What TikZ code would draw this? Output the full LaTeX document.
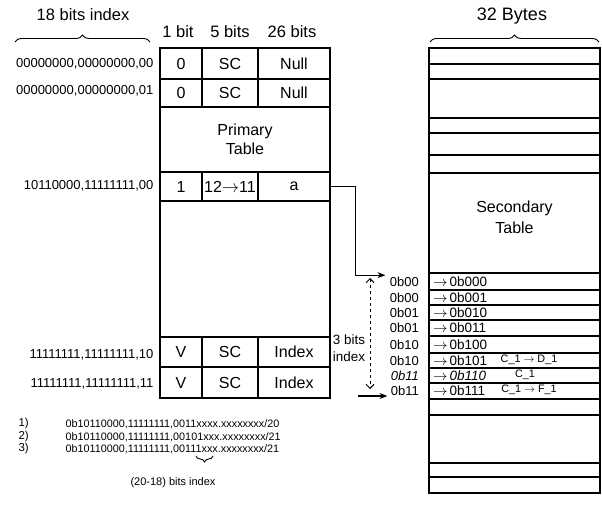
\documentclass[tikz,border=0pt]{standalone}
\usepackage{fontspec}
\setmainfont{Liberation Sans}
\usetikzlibrary{positioning, arrows.meta, calc, decorations.pathreplacing}
\newcommand{\fsz}[2][]{\fontsize{#2}{1.2\dimexpr#2pt\relax}\selectfont}

\begin{document}
\begin{tikzpicture}[x=1pt, y=-1pt, >=Stealth, line width=1.1pt,
    cell/.style={draw, inner sep=0pt, font=\fsz{16}},
    rowlbl/.style={anchor=east, inner sep=1pt, font=\fsz{13}},
    hdr/.style={inner sep=1pt, font=\fsz{16.5}},
    slot/.style={draw, inner sep=0pt, minimum width=171},
    idx/.style={inner sep=1pt, font=\fsz{13}},
    entry/.style={anchor=west, inner sep=1pt, font=\fsz{13.5}},
    note/.style={inner sep=1pt, font=\fsz{10.8}},
    brc/.style={decorate, decoration={brace, amplitude=7pt}, line width=0.9pt}]
    \useasboundingbox (0,0) rectangle (602,521);
    % primary table
    \foreach \n/\yc/\h/\ta/\tb/\tc in {p1/63.5/31/0/SC/Null, p2/93/28/0/SC/Null,
        p3/186.5/29/1/{12$\rightarrow$11}/a, p4/352/30/V/SC/Index, p5/382.5/31/V/SC/Index} {
      \node[cell, minimum width=42, minimum height=\h] (\n-a) at (181,\yc) {\ta};
      \node[cell, minimum width=56, minimum height=\h] (\n-b) at (230,\yc) {\tb};
      \node[cell, minimum width=72, minimum height=\h] (\n-c) at (294,\yc) {\tc};
    }
    \node[cell, align=center, font=\fontsize{16}{19}\selectfont, minimum width=170,
          minimum height=65] (prim) at (245,139.5) {Primary\\Table};
    \node[cell, minimum width=170, minimum height=136] (gap) at (245,269) {};
    % headers
    \node[hdr] (t18) at (83,15) {18 bits index};
    \draw[brc] (15,42) -- (150,42);
    \node[hdr] (h1) at (178,32) {1 bit};
    \node[hdr] (h5) at (230,32) {5 bits};
    \node[hdr] (h26) at (292,32) {26 bits};
    % row keys
    \node[rowlbl] (k1) at (155,64)  {00000000,00000000,00};
    \node[rowlbl] (k2) at (155,91)  {00000000,00000000,01};
    \node[rowlbl] (k3) at (155,186) {10110000,11111111,00};
    \node[rowlbl] (k4) at (155,355) {11111111,11111111,10};
    \node[rowlbl] (k5) at (155,384) {11111111,11111111,11};
    % secondary table
    \node[hdr, font=\fsz{18}] (t32) at (512,16) {32 Bytes};
    \draw[brc] (430,42) -- (599,42);
    \foreach \t/\b [count=\i] in {48/64, 64/79, 79/118, 118/133, 133/155, 155/173, 173/273,
        273/290, 290/305, 305/320, 320/336, 336/353, 353/368, 368/383, 383/399,
        399/415, 415/463, 463/477, 477/493}
      \node[slot, minimum height=\b-\t] (s\i) at (514.5,{(\t+\b)/2}) {};
    \node[align=center, font=\fontsize{16}{21}\selectfont] (sec) at (514.5,217) {Secondary\\Table};
    \foreach \r/\v/\w [count=\i] in {8/000/0b00, 9/001/0b00, 10/010/0b01, 11/011/0b01,
        12/100/0b10, 13/101/0b10, 14/{\textit{0b110}}/{\textit{0b11}}, 15/111/0b11} {
      \node[entry] (e\i) at ([xshift=3pt]s\r.west)
        {$\rightarrow$\,\ifnum\r=14 \v\else 0b\v\fi};
      \node[idx, left=8pt of s\r] (l\i) {\w};
    }
    \node[note] (n1) at (529,360) {C\_1 $\rightarrow$ D\_1};
    \node[note] (n2) at (525,375) {C\_1};
    \node[note] (n3) at (529,390) {C\_1 $\rightarrow$ F\_1};
    % pointer into the secondary table
    \draw[->] (p3-c.east) -- ++(25,0) |- ([xshift=-3pt]l1.north west);
    \coordinate (btail) at (358,396);
    \draw[->] (btail) -- ([xshift=-2pt]l8.west |- btail);
    \coordinate (dtop) at (370,278);
    \coordinate (dbot) at (370,389);
    \draw[{Straight Barb[length=4pt]}-{Straight Barb[length=4pt]}, dashed, line width=0.9pt]
      (dtop) -- (dbot);
    \node[align=center, inner sep=0pt, font=\fontsize{13.4}{17}\selectfont] (b3) at (349,348) {3 bits\\index};
    % prefixes
    \foreach \k/\y/\s in {1/424/0011xxxx, 2/437/00101xxx, 3/449/00111xxx} {
      \node[note, anchor=west, font=\fsz{11.5}] (m\k) at (17,\y) {\k)};
      \node[note, anchor=west] (q\k) at (64,\y)
        {0b10110000,11111111,\s.xxxxxxxx/2\ifnum\k=1 0\else 1\fi};
    }
    \draw[brc, decoration={amplitude=6pt}] (213,456) -- (196,456);
    \node[note, font=\fsz{11}] (bi) at (173,483) {(20-18) bits index};
\end{tikzpicture}
\end{document}
